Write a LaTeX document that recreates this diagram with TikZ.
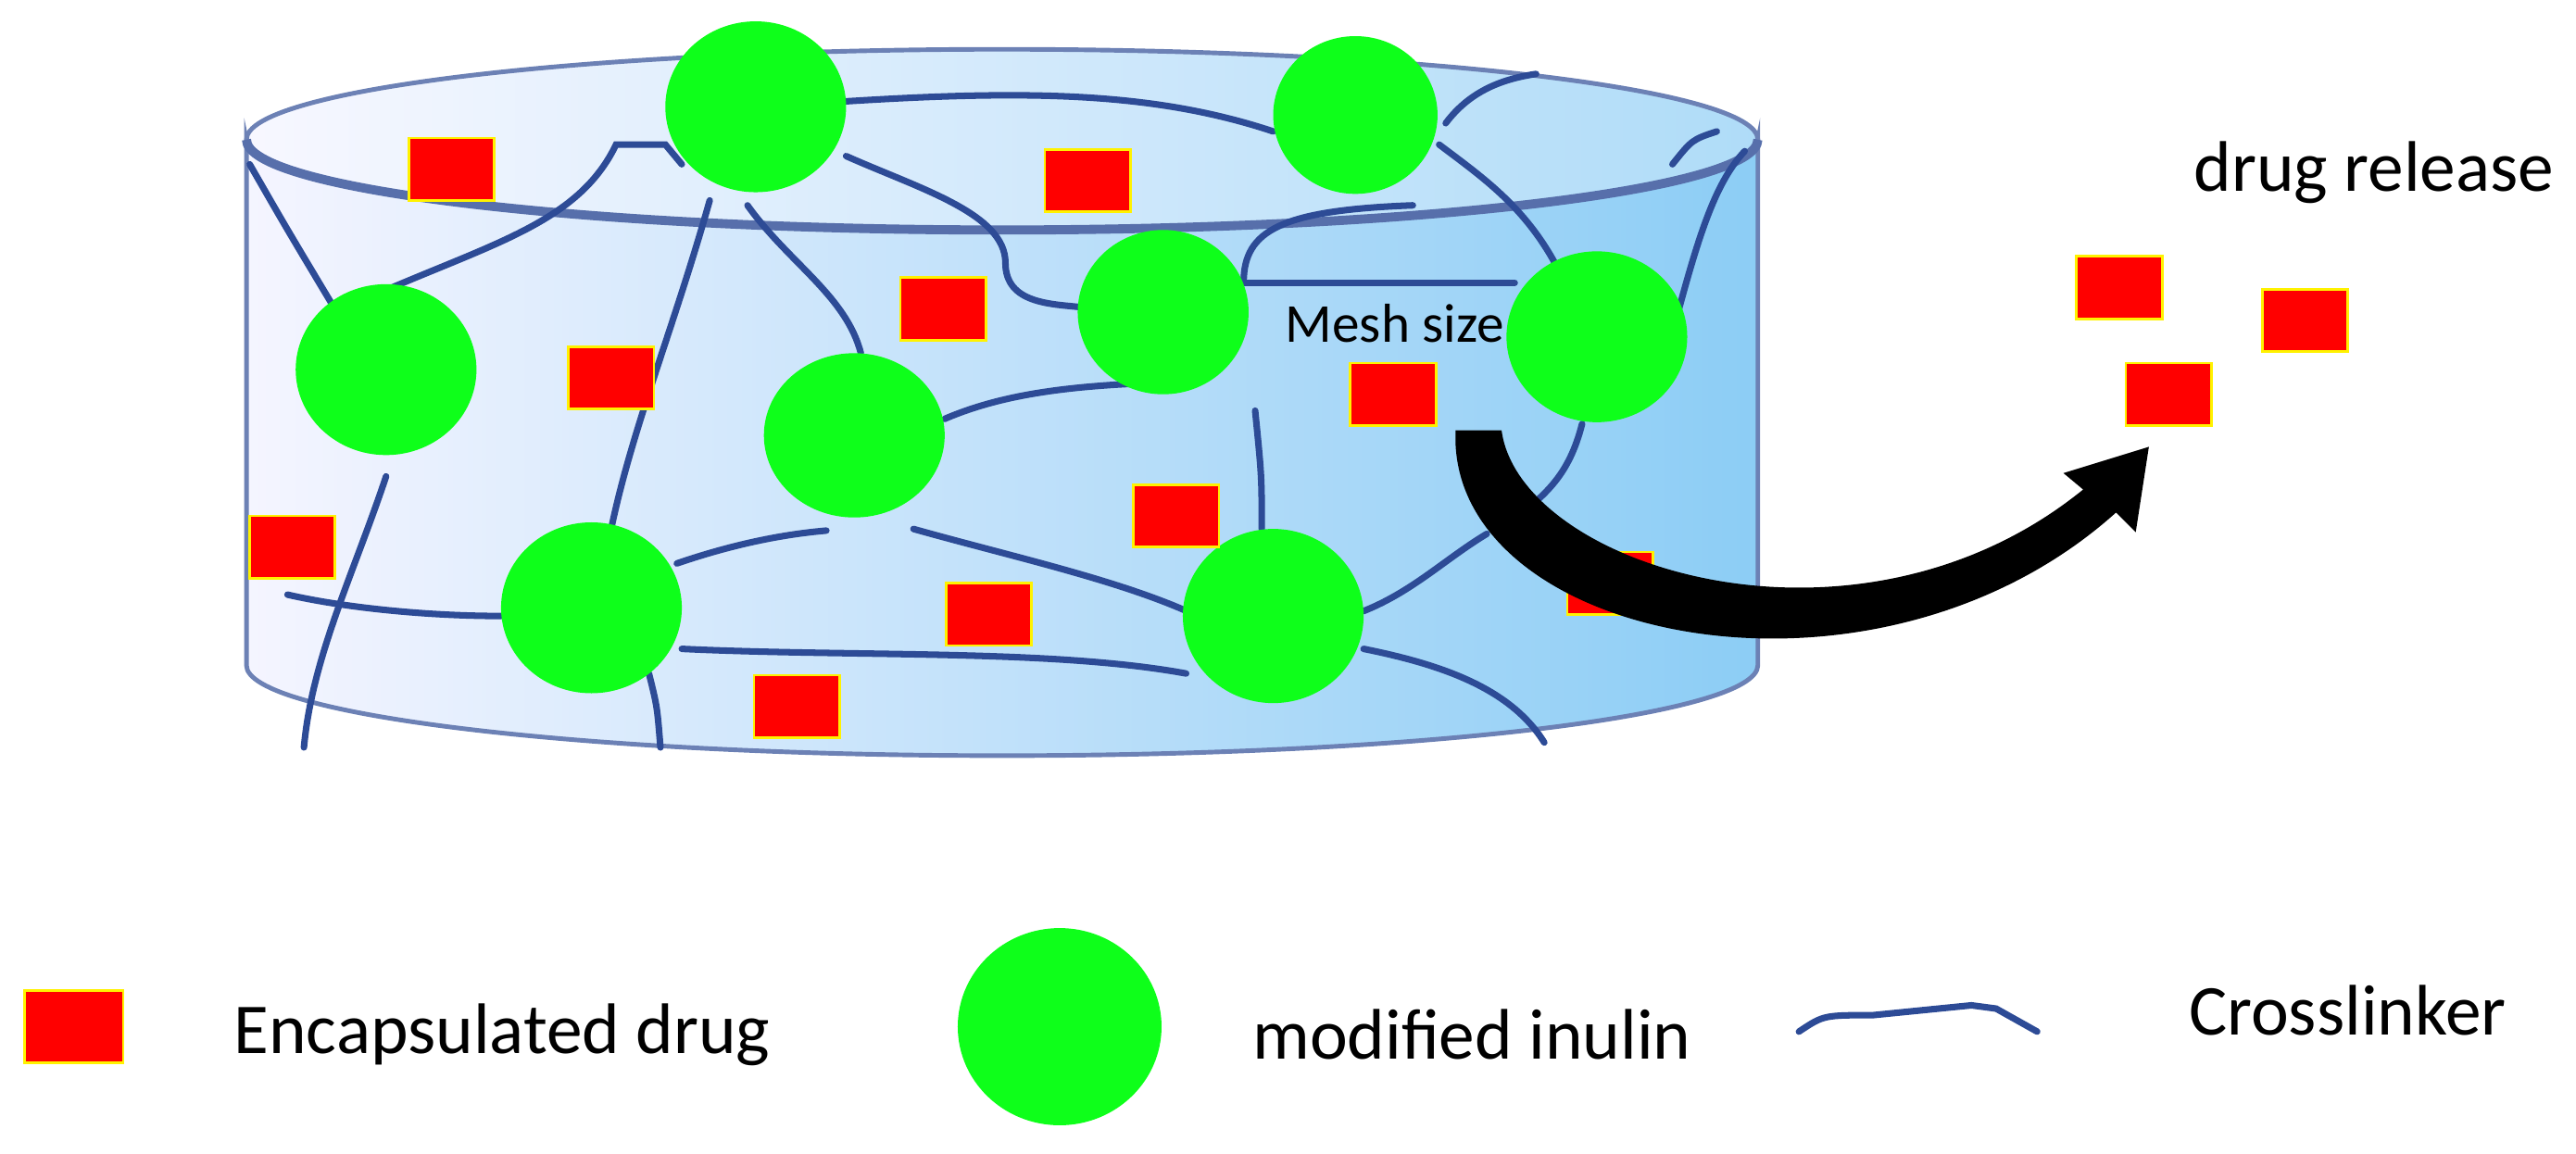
\documentclass[tikz,border=0pt]{standalone}
\usepackage{fontspec}
\setmainfont{Carlito}
\usetikzlibrary{shapes.geometric,shapes.misc}
\definecolor{inul}{RGB}{14,255,26}
\definecolor{lnk}{RGB}{45,75,150}
\begin{document}
\begin{tikzpicture}[x=0.017736cm,y=-0.017736cm,
  drug/.style={scale=1.7736,chamfered rectangle,chamfered rectangle xsep=2pt,chamfered rectangle ysep=2pt,
    fill=red,draw=yellow,line width=0.8pt,minimum width=0.52cm,minimum height=0.38cm,inner sep=0pt},
  inu/.style={scale=1.7736,ellipse,fill=inul,inner sep=0pt},
  link/.style={draw=lnk,line width=2pt,line cap=round},
  lbl/.style={scale=1.7736,font=\fontsize{12.4pt}{14pt}\selectfont,anchor=west}]
\useasboundingbox (0,0) rectangle (1568,702);
% cylinder body
\path[left color=blue!4!white,right color={rgb,255:red,140;green,205;blue,245},draw=lnk!70,line width=1.4pt]
 (150,85) -- (150,405) arc[start angle=180,end angle=0,x radius=460,y radius=55] -- (1070,85) arc[start angle=0,end angle=180,x radius=460,y radius=55] -- cycle;
\path[left color=blue!3!white,right color={rgb,255:red,175;green,220;blue,248},draw=lnk!70,line width=1.4pt]
 (610,85) ellipse[x radius=460,y radius=55];
\draw[lnk!80,line width=2.8pt] (150,85) arc[start angle=180,end angle=0,x radius=460,y radius=55];
% crosslinkers
\draw[link] (152,100) .. controls (175,140) .. (205,190);
\draw[link] (205,190) .. controls (290,150) and (350,140) .. (375,88) -- (405,88) -- (415,100);
\draw[link] (510,62) .. controls (620,55) and (700,55) .. (775,80);
\draw[link] (515,95) .. controls (560,115) and (612,130) .. (612,160) .. controls (612,185) and (640,185) .. (658,187);
\draw[link] (432,122) .. controls (410,200) and (385,260) .. (372,322);
\draw[link] (455,125) .. controls (480,160) and (515,180) .. (524,215);
\draw[link] (575,255) .. controls (610,240) and (650,235) .. (703,233);
\draw[link] (305,375) .. controls (260,375) and (210,370) .. (175,362);
\draw[link] (235,290) .. controls (215,350) and (190,400) .. (185,455);
\draw[link] (412,343) .. controls (450,330) and (480,325) .. (503,323);
\draw[link] (556,322) .. controls (620,340) and (690,355) .. (735,378);
\draw[link] (415,395) .. controls (520,400) and (640,395) .. (722,410);
\draw[link] (395,410) .. controls (400,430) .. (402,455);
\draw[link] (768,322) .. controls (768,290) .. (764,250);
\draw[link] (830,395) .. controls (880,405) and (920,420) .. (940,452);
\draw[link] (830,372) .. controls (860,360) and (880,340) .. (905,325);
\draw[link] (963,258) .. controls (955,290) and (940,300) .. (930,310);
\draw[link] (876,88) .. controls (905,110) and (935,130) .. (955,178);
\draw[link] (1022,188) .. controls (1035,140) and (1045,110) .. (1062,92);
\draw[link] (880,75) .. controls (895,55) and (915,48) .. (935,45);
\draw[link] (1018,100) .. controls (1030,85) .. (1045,80);
% mesh size
\draw[link] (757,172) -- (922,172);
\draw[link] (757,172) .. controls (757,140) and (780,128) .. (860,125);
\node[scale=1.7736,font=\fontsize{9.5pt}{11pt}\selectfont,anchor=west] (mesh) at (770,197) {Mesh size};
% inulin
\node[inu,minimum width=1.10cm,minimum height=1.04cm] (i1) at (460,65) {};
\node[inu,minimum width=1.00cm,minimum height=0.96cm] (i2) at (825,70) {};
\node[inu,minimum width=1.10cm,minimum height=1.04cm] (i3) at (235,225) {};
\node[inu,minimum width=1.04cm,minimum height=1.00cm] (i4) at (708,190) {};
\node[inu,minimum width=1.10cm,minimum height=1.04cm] (i5) at (972,205) {};
\node[inu,minimum width=1.10cm,minimum height=1.00cm] (i6) at (520,265) {};
\node[inu,minimum width=1.10cm,minimum height=1.04cm] (i7) at (360,370) {};
\node[inu,minimum width=1.10cm,minimum height=1.06cm] (i8) at (775,375) {};
% drugs
\node[drug] (d1) at (275,103) {};
\node[drug] (d2) at (662,110) {};
\node[drug] (d3) at (574,188) {};
\node[drug] (d4) at (372,230) {};
\node[drug] (d5) at (848,240) {};
\node[drug] (d6) at (178,333) {};
\node[drug] (d7) at (716,314) {};
\node[drug] (d8) at (602,374) {};
\node[drug] (d9) at (980,355) {};
\node[drug] (d10) at (485,430) {};
% release arrow
\fill[black] (886,262) -- (914,262) .. controls (925,345) and (1130,410) .. (1268,298) -- (1256,288) -- (1308,272) -- (1300,324) -- (1288,312) .. controls (1140,445) and (880,390) .. cycle;
\node[drug] (r1) at (1290,175) {};
\node[drug] (r2) at (1403,195) {};
\node[drug] (r3) at (1320,240) {};
\node[lbl] (rel) at (1323,105) {drug release};
% legend
\node[drug,minimum width=0.6cm,minimum height=0.44cm] (ld) at (45,625) {};
\node[lbl] (ldt) at (130,630) {Encapsulated drug};
\node[inu,minimum width=1.24cm,minimum height=1.20cm] (li) at (645,625) {};
\node[lbl] (lit) at (750,630) {modified inulin};
\coordinate (c1) at (1095,628);
\coordinate (c2) at (1240,628);
\draw[link] (c1) .. controls (1110,618) .. (1140,618) -- (1170,615) -- (1200,612) -- (1215,614) -- (c2);
\node[lbl] (lct) at (1320,615) {Crosslinker};
\end{tikzpicture}
\end{document}
